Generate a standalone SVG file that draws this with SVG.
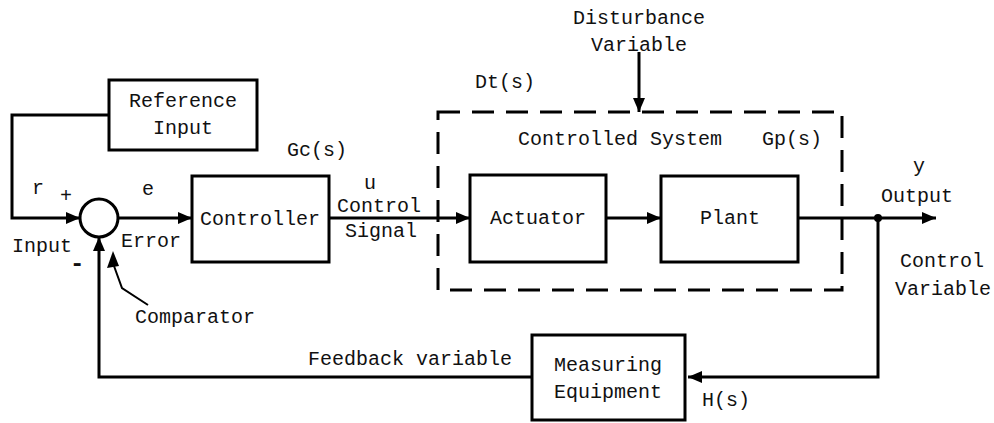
<svg xmlns="http://www.w3.org/2000/svg" width="994" height="423" viewBox="0 0 994 423">
<defs>
<marker id="arr" viewBox="0 0 14 12" refX="14" refY="6" markerWidth="14" markerHeight="12" markerUnits="userSpaceOnUse" orient="auto">
<path d="M0,0 L14,6 L0,12 Z" fill="#000"/>
</marker>
</defs>
<style>
text{font-family:"Liberation Mono","Courier New",monospace;font-size:20px;fill:#111;}
.c{text-anchor:middle;}
.box{fill:#fff;stroke:#000;stroke-width:3;}
.ln{fill:none;stroke:#000;stroke-width:3;}
</style>
<rect width="994" height="423" fill="#fff"/>
<g id="connectors">
<polyline class="ln" points="109,115 12,115 12,218 80,218" marker-end="url(#arr)"/>
<line class="ln" x1="118" y1="218" x2="192" y2="218" marker-end="url(#arr)"/>
<line class="ln" x1="329" y1="218" x2="470" y2="218" marker-end="url(#arr)"/>
<line class="ln" x1="606" y1="218" x2="661" y2="218" marker-end="url(#arr)"/>
<line class="ln" x1="798" y1="218" x2="936" y2="218" marker-end="url(#arr)"/>
<polyline class="ln" points="878,218 878,377 688,377" marker-end="url(#arr)"/>
<polyline class="ln" points="532,377 99,377 99,237" marker-end="url(#arr)"/>
<line class="ln" x1="639" y1="52" x2="639" y2="112" marker-end="url(#arr)"/>
<polyline class="ln" style="stroke-width:2" points="148,305 122,288 114,266" />
<path d="M113,251 L107,268 L119,266 Z" fill="#000"/>
<circle cx="878" cy="218" r="4" fill="#000"/>
</g>
<g id="controlled-system">
<rect x="438" y="112" width="404" height="178" fill="none" stroke="#000" stroke-width="3" stroke-dasharray="22 12"/>
<text x="518" y="145">Controlled System</text>
<text x="762" y="145">Gp(s)</text>
<text x="475" y="88">Dt(s)</text>
</g>
<g id="reference-input">
<rect class="box" x="109" y="80" width="148" height="70"/>
<text class="c" x="183" y="107">Reference</text>
<text class="c" x="183" y="134">Input</text>
</g>
<g id="comparator">
<circle cx="99" cy="218" r="19" fill="#fff" stroke="#000" stroke-width="3"/>
<text x="32" y="194">r</text>
<text x="60" y="202">+</text>
<text x="142" y="195">e</text>
<text x="12" y="252">Input</text>
<text x="70" y="271" style="font-weight:bold;font-size:24px">-</text>
<text x="121" y="247">Error</text>
<text x="135" y="323">Comparator</text>
</g>
<g id="controller">
<rect class="box" x="192" y="176" width="137" height="86"/>
<text class="c" x="260" y="225">Controller</text>
<text x="287" y="156">Gc(s)</text>
<text x="364" y="189">u</text>
<text x="337" y="212">Control</text>
<text x="345" y="237">Signal</text>
</g>
<g id="actuator">
<rect class="box" x="470" y="175" width="136" height="87"/>
<text class="c" x="538" y="224">Actuator</text>
</g>
<g id="plant">
<rect class="box" x="661" y="176" width="137" height="86"/>
<text class="c" x="730" y="224">Plant</text>
</g>
<g id="output">
<text x="913" y="172">y</text>
<text x="881" y="202">Output</text>
<text x="900" y="267">Control</text>
<text x="895" y="295">Variable</text>
</g>
<g id="disturbance">
<text class="c" x="639" y="24">Disturbance</text>
<text class="c" x="639" y="51">Variable</text>
</g>
<g id="measuring-equipment">
<rect class="box" x="532" y="335" width="153" height="85"/>
<text class="c" x="608" y="371">Measuring</text>
<text class="c" x="608" y="398">Equipment</text>
<text x="308" y="365">Feedback variable</text>
<text x="702" y="406">H(s)</text>
</g>
</svg>
